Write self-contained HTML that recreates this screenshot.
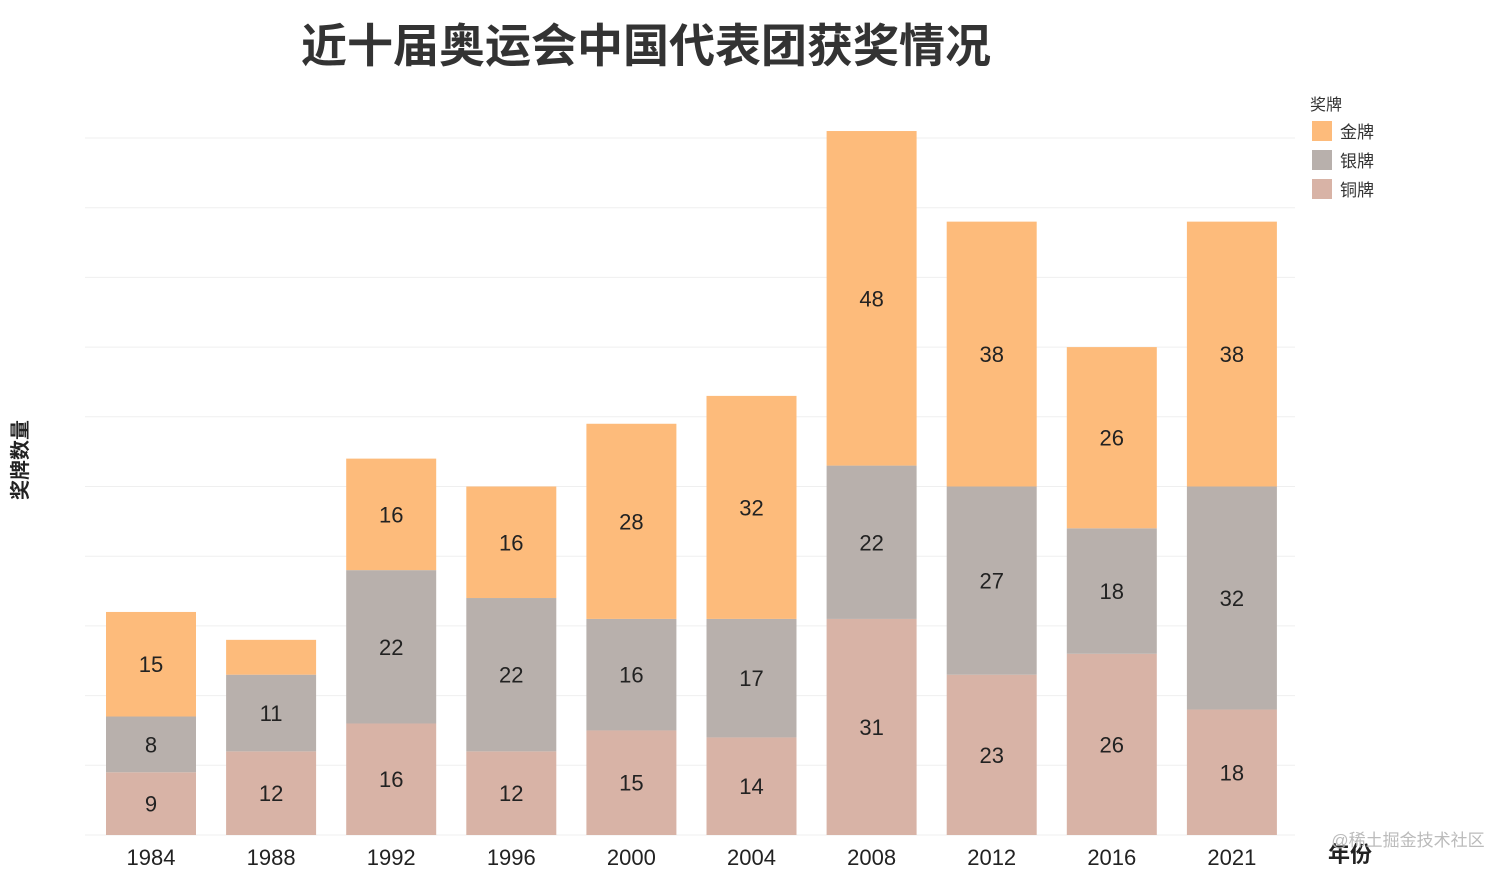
<!DOCTYPE html>
<html><head><meta charset="utf-8"><style>
body{margin:0;background:#fff;font-family:"Liberation Sans","Noto Sans CJK SC",sans-serif;}
svg text{font-family:"Liberation Sans","Noto Sans CJK SC",sans-serif;}
</style></head><body>
<svg id="chart" width="1512" height="874" xmlns="http://www.w3.org/2000/svg">
<text x="646" y="62" font-size="46" font-weight="bold" fill="#333" text-anchor="middle">近十届奥运会中国代表团获奖情况</text>
<text transform="translate(27,460) rotate(-90)" font-size="20" font-weight="bold" fill="#222" text-anchor="middle">奖牌数量</text>
<text x="1350" y="862" font-size="22" font-weight="bold" fill="#222" text-anchor="middle">年份</text>
<text x="1408" y="846" font-size="17" fill="#bbb" text-anchor="middle">@稀土掘金技术社区</text>
<g id="grid"></g><g id="bars"></g><g id="xticks"></g>
<g>
<text x="1310" y="110" font-size="16" fill="#333">奖牌</text>
<rect x="1312" y="121" width="20" height="20" fill="#fdbb7b"/>
<text x="1340" y="138" font-size="17" fill="#333">金牌</text>
<rect x="1312" y="150" width="20" height="20" fill="#b8b0ac"/>
<text x="1340" y="167" font-size="17" fill="#333">银牌</text>
<rect x="1312" y="179" width="20" height="20" fill="#d8b3a6"/>
<text x="1340" y="196" font-size="17" fill="#333">铜牌</text>
</g>
</svg>
<script>
const years=["1984","1988","1992","1996","2000","2004","2008","2012","2016","2021"];
const bronze=[9,12,16,12,15,14,31,23,26,18];
const silver=[8,11,22,22,16,17,22,27,18,32];
const gold=[15,5,16,16,28,32,48,38,26,38];
const gridVals=[0,10,20,30,40,50,60,70,80,90,100];
const NS="http://www.w3.org/2000/svg";
const base=835,ppu=6.97,x0=151,step=120.1,bw=90;
const y=v=>base-v*ppu, xc=i=>x0+i*step;
function mk(t,a,p){const e=document.createElementNS(NS,t);for(const k in a)e.setAttribute(k,a[k]);p.appendChild(e);return e;}
const g=document.getElementById('grid');
gridVals.forEach(v=>{const l=mk('line',{x1:85,x2:1295,y1:y(v),y2:y(v),stroke:'#efefef','stroke-width':1},g);

});
const b=document.getElementById('bars'),xt=document.getElementById('xticks');
const series=[["bronze",bronze,"#d8b3a6"],["silver",silver,"#b8b0ac"],["gold",gold,"#fdbb7b"]];
years.forEach((yr,i)=>{let acc=0;
series.forEach(([nm,arr,col])=>{const v=arr[i];
const r=mk('rect',{x:xc(i)-bw/2,y:y(acc+v),width:bw,height:v*ppu,fill:col},b);


if(v*ppu>40){const t=mk('text',{x:xc(i),y:y(acc+v/2)+8,'font-size':22,fill:'#222','text-anchor':'middle'},b);t.textContent=v;

}
acc+=v;});
const t=mk('text',{x:xc(i),y:865,'font-size':22,fill:'#222','text-anchor':'middle'},xt);t.textContent=yr;

});
</script>
</body></html>
